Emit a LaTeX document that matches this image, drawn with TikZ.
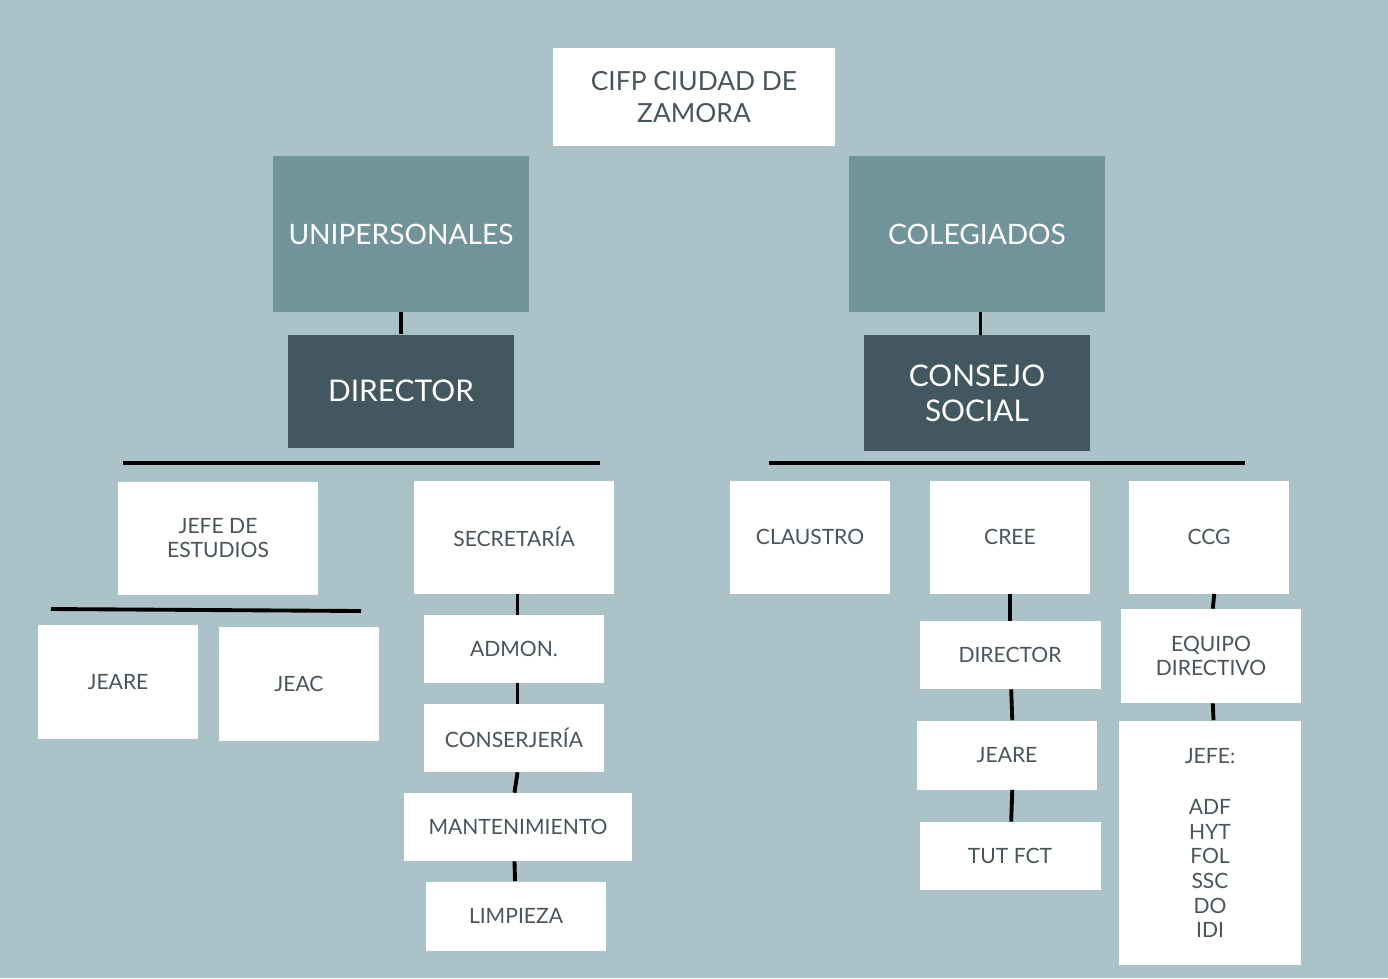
\documentclass[tikz,border=0pt]{standalone}
\usepackage{fontspec}
\setmainfont{Lato}
\usepackage{xcolor}
\usetikzlibrary{positioning}
\definecolor{bgblue}{HTML}{ABC2C8}
\definecolor{midteal}{HTML}{71949A}
\definecolor{darkteal}{HTML}{435761}
\definecolor{txtgray}{HTML}{4A555B}
\tikzstyle{whitebox} = [rectangle, fill = white, text = txtgray, align = center, inner sep = 0pt, font = \fontsize{12}{14}\selectfont]
\tikzstyle{group} = [rectangle, fill = midteal, text = white, align = center, inner sep = 0pt, minimum width = 5.12cm, minimum height = 3.12cm, font = \fontsize{16}{19}\selectfont]
\tikzstyle{head} = [rectangle, fill = darkteal, text = white, align = center, inner sep = 0pt, minimum width = 4.52cm, font = \fontsize{17}{20}\selectfont]
\tikzstyle{link} = [line width = 2.2pt, black]

\begin{document}
\begin{tikzpicture}[x = 0.02cm, y = -0.02cm]
	\fill[bgblue] (0,0) rectangle (1388,978);
	\node (cifp)[whitebox, minimum width = 5.64cm, minimum height = 1.98cm, font = \fontsize{15}{18}\selectfont] at (694,97) {CIFP CIUDAD DE\\ZAMORA};
	\node (unip)[group] at (401,234) {UNIPERSONALES};
	\node (coleg)[group] at (977,234) {COLEGIADOS};
	\node (dir)[head, minimum height = 2.26cm] at (401,391) {DIRECTOR};
	\node (consejo)[head, minimum height = 2.32cm] at (977,393) {CONSEJO\\SOCIAL};

	\coordinate (barL1) at (123,463);
	\coordinate (barL2) at (600,463);
	\coordinate (barR1) at (769,463);
	\coordinate (barR2) at (1245,463);
	\coordinate (barJ1) at (51,609);
	\coordinate (barJ2) at (361,611);

	\node (jefe)[whitebox, minimum width = 4cm, minimum height = 2.26cm] at (218,538) {JEFE DE\\ESTUDIOS};
	\node (secre)[whitebox, minimum width = 4cm, minimum height = 2.26cm] at (514,537) {SECRETARÍA};
	\node (claustro)[whitebox, minimum width = 3.2cm, minimum height = 2.26cm] at (810,537) {CLAUSTRO};
	\node (cree)[whitebox, minimum width = 3.2cm, minimum height = 2.26cm] at (1010,537) {CREE};
	\node (ccg)[whitebox, minimum width = 3.2cm, minimum height = 2.26cm] at (1209,537) {CCG};

	\node (jeare)[whitebox, minimum width = 3.2cm, minimum height = 2.28cm] at (118,682) {JEARE};
	\node (jeac)[whitebox, minimum width = 3.2cm, minimum height = 2.28cm] at (299,684) {JEAC};

	\node (admon)[whitebox, minimum width = 3.6cm, minimum height = 1.36cm] at (514,649) {ADMON.};
	\node (conserje)[whitebox, minimum width = 3.6cm, minimum height = 1.36cm] at (514,738) {CONSERJERÍA};
	\node (manten)[whitebox, minimum width = 4.56cm, minimum height = 1.36cm] at (518,827) {MANTENIMIENTO};
	\node (limpieza)[whitebox, minimum width = 3.6cm, minimum height = 1.38cm] at (516,916) {LIMPIEZA};

	\node (dirc)[whitebox, minimum width = 3.62cm, minimum height = 1.36cm] at (1010,655) {DIRECTOR};
	\node (jeare2)[whitebox, minimum width = 3.6cm, minimum height = 1.38cm] at (1007,755) {JEARE};
	\node (tutfct)[whitebox, minimum width = 3.62cm, minimum height = 1.36cm] at (1010,856) {TUT FCT};

	\node (equipo)[whitebox, minimum width = 3.6cm, minimum height = 1.88cm] at (1211,656) {EQUIPO\\DIRECTIVO};
	\node (jefes)[whitebox, minimum width = 3.64cm, minimum height = 4.9cm] at (1210,843) {JEFE:\\[2.5ex]ADF\\HYT\\FOL\\SSC\\DO\\IDI};

	\draw [link] (barL1) -- (barL2);
	\draw [link] (barR1) -- (barR2);
	\draw [link] (barJ1) -- (barJ2);
	\draw [link] (unip) -- (dir);
	\draw [link] ([xshift = 2] coleg.south) -- ([xshift = 2] consejo.north);
	\draw [link] ([xshift = 2] secre.south) -- ([xshift = 2] admon.north);
	\draw [link] ([xshift = 2] admon.south) -- ([xshift = 2] conserje.north);
	\draw [link] ([xshift = 2] conserje.south) -- ([xshift = -2] manten.north);
	\draw [link] ([xshift = -2] manten.south) -- (limpieza);
	\draw [link] (cree) -- (dirc);
	\draw [link] (dirc) -- ([xshift = 3] jeare2.north);
	\draw [link] ([xshift = 3] jeare2.south) -- (tutfct);
	\draw [link] ([xshift = 3] ccg.south) -- ([xshift = 1] equipo.north);
	\draw [link] ([xshift = 1] equipo.south) -- ([xshift = 2] jefes.north);
\end{tikzpicture}
\end{document}
